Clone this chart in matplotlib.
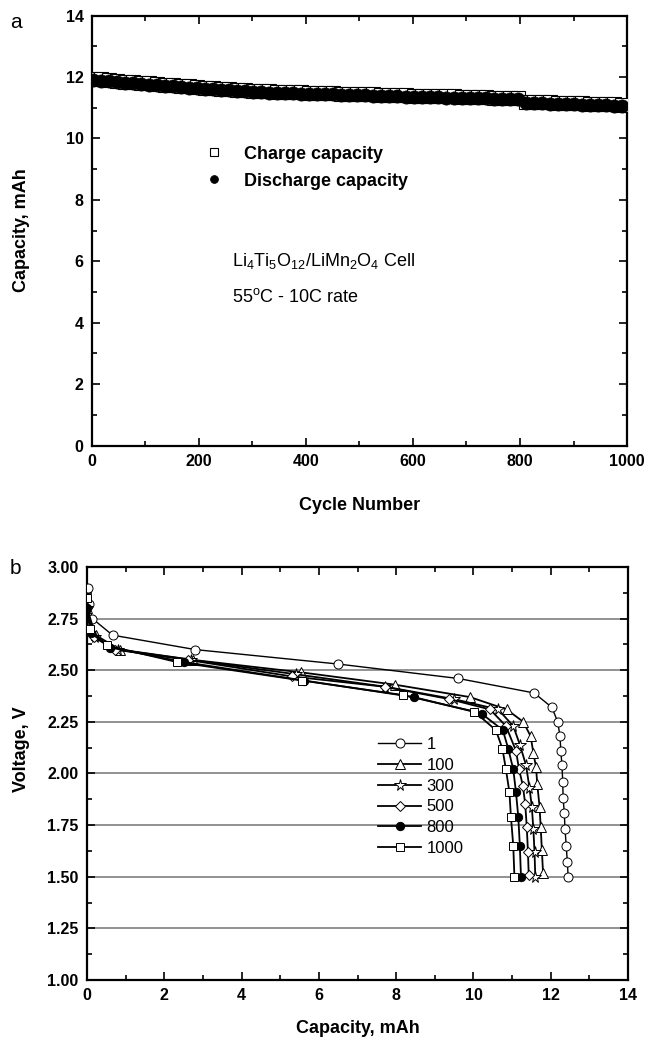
import matplotlib
matplotlib.use("Agg")
import matplotlib.pyplot as plt
from matplotlib.ticker import MultipleLocator

plt.rcParams['font.family'] = ['Liberation Sans', 'DejaVu Sans']
plt.rcParams['mathtext.default'] = 'regular'

# ---- panel a: capacity vs cycle number ----
cycles = [1, 16, 31, 46, 61, 76, 91, 106, 121, 136, 151, 166, 181, 196, 211, 226,
          241, 256, 271, 286, 301, 316, 331, 346, 361, 376, 391, 406, 421, 436, 451,
          466, 481, 496, 511, 526, 541, 556, 571, 586, 601, 616, 631, 646, 661, 676,
          691, 706, 721, 736, 751, 766, 781, 796, 811, 826, 841, 856, 871, 886, 901,
          916, 931, 946, 961, 976, 991]
discharge_cap = [11.90, 11.88, 11.86, 11.83, 11.81, 11.79, 11.77, 11.75, 11.73, 11.71,
                 11.69, 11.67, 11.65, 11.63, 11.61, 11.60, 11.58, 11.56, 11.54, 11.53,
                 11.51, 11.50, 11.49, 11.48, 11.47, 11.47, 11.46, 11.45, 11.44, 11.44,
                 11.43, 11.42, 11.41, 11.41, 11.40, 11.39, 11.38, 11.38, 11.37, 11.36,
                 11.35, 11.35, 11.34, 11.34, 11.33, 11.33, 11.32, 11.31, 11.31, 11.30,
                 11.29, 11.29, 11.28, 11.27, 11.16, 11.15, 11.14, 11.13, 11.12, 11.12,
                 11.11, 11.10, 11.09, 11.09, 11.08, 11.07, 11.06]
charge_cap = [11.94, 11.92, 11.90, 11.87, 11.85, 11.83, 11.81, 11.79, 11.77, 11.75,
              11.73, 11.71, 11.69, 11.67, 11.65, 11.64, 11.62, 11.60, 11.58, 11.57,
              11.55, 11.54, 11.53, 11.52, 11.51, 11.51, 11.50, 11.49, 11.48, 11.48,
              11.47, 11.46, 11.45, 11.45, 11.44, 11.43, 11.42, 11.42, 11.41, 11.40,
              11.39, 11.39, 11.38, 11.38, 11.37, 11.37, 11.36, 11.35, 11.35, 11.34,
              11.33, 11.33, 11.32, 11.31, 11.20, 11.19, 11.18, 11.17, 11.16, 11.16,
              11.15, 11.14, 11.13, 11.13, 11.12, 11.11, 11.10]

# ---- panel b: discharge curves at selected cycles ----
cap_1 = [0.03, 0.04, 0.14, 0.66, 2.80, 6.50, 9.61, 11.57, 12.03, 12.18, 12.24, 12.26,
         12.29, 12.31, 12.32, 12.35, 12.37, 12.40, 12.43, 12.45]
volt_1 = [2.90, 2.82, 2.75, 2.67, 2.60, 2.53, 2.46, 2.39, 2.32, 2.25, 2.18, 2.11,
          2.04, 1.96, 1.88, 1.81, 1.73, 1.65, 1.57, 1.50]
cap_100 = [0.00, 0.22, 0.85, 2.75, 5.53, 7.97, 9.91, 10.86, 11.29, 11.48, 11.55, 11.62,
           11.65, 11.71, 11.74, 11.77, 11.80]
volt_100 = [2.80, 2.67, 2.60, 2.55, 2.49, 2.43, 2.37, 2.31, 2.25, 2.18, 2.10, 2.03,
            1.95, 1.84, 1.74, 1.63, 1.52]
cap_300 = [0.00, 0.20, 0.80, 2.70, 5.42, 7.72, 9.50, 10.64, 11.03, 11.20, 11.36, 11.45,
           11.51, 11.55, 11.58, 11.60]
volt_300 = [2.80, 2.66, 2.60, 2.55, 2.48, 2.42, 2.36, 2.31, 2.23, 2.14, 2.04, 1.93,
            1.84, 1.73, 1.62, 1.50]
cap_500 = [0.00, 0.18, 0.72, 2.61, 5.30, 7.70, 9.38, 10.43, 10.84, 11.10, 11.18, 11.28,
           11.34, 11.38, 11.41, 11.43]
volt_500 = [2.80, 2.66, 2.60, 2.55, 2.47, 2.42, 2.36, 2.31, 2.23, 2.11, 2.02, 1.94,
            1.85, 1.74, 1.62, 1.51]
cap_800 = [0.00, 0.10, 0.60, 2.50, 5.62, 8.45, 10.21, 10.76, 10.90, 11.03, 11.10, 11.16,
           11.20, 11.23]
volt_800 = [2.80, 2.68, 2.61, 2.54, 2.45, 2.37, 2.29, 2.21, 2.12, 2.02, 1.91, 1.79,
            1.65, 1.50]
cap_1000 = [0.00, 0.07, 0.51, 2.32, 5.57, 8.17, 10.02, 10.58, 10.75, 10.84, 10.93, 10.97,
            11.03, 11.06]
volt_1000 = [2.85, 2.70, 2.62, 2.54, 2.45, 2.38, 2.30, 2.21, 2.12, 2.02, 1.91, 1.79,
             1.65, 1.50]
cycle_labels = ['1', '100', '300', '500', '800', '1000']


def style_axes(ax):
    for sp in ax.spines.values():
        sp.set_linewidth(1.6)
    ax.tick_params(which='both', direction='in', top=True, right=True, width=1.2)
    ax.tick_params(which='major', length=6, pad=6)
    ax.tick_params(which='minor', length=3.5)
    for lab in ax.get_xticklabels() + ax.get_yticklabels():
        lab.set_fontsize(11.5)
        lab.set_fontweight('bold')


fig = plt.figure(figsize=(6.45, 10.49), dpi=100)

# panel a
ax = fig.add_axes([0.1426, 0.5753, 0.8295, 0.4099])
ax.plot(cycles, charge_cap, ls='none', marker='s', ms=10, mfc='white', mec='black',
        mew=0.8, label='Charge capacity', zorder=3)
ax.plot(cycles, discharge_cap, ls='none', marker='o', ms=9.5, mfc='black', mec='black',
        mew=0.5, label='Discharge capacity', zorder=4)
ax.set_xlim(0, 1000)
ax.set_ylim(0, 14)
ax.xaxis.set_major_locator(MultipleLocator(200))
ax.xaxis.set_minor_locator(MultipleLocator(100))
ax.yaxis.set_major_locator(MultipleLocator(2))
ax.yaxis.set_minor_locator(MultipleLocator(1))
style_axes(ax)
ax.set_xlabel('Cycle Number', fontsize=13, fontweight='bold', labelpad=20)
ax.set_ylabel('Capacity, mAh', fontsize=13, fontweight='bold')
ax.yaxis.set_label_coords(-0.115, 0.5)
ax.legend(loc='upper left', bbox_to_anchor=(0.18, 0.735), frameon=False,
          handlelength=1.0, handletextpad=1.2, labelspacing=0.55, markerscale=0.6,
          prop={'size': 13, 'weight': 'bold'})
ax.text(262, 6.0, r'Li$_4$Ti$_5$O$_{12}$/LiMn$_2$O$_4$ Cell', fontsize=13, va='center')
ax.text(262, 4.85, r'55$^o$C - 10C rate', fontsize=13, va='center')

# panel b
bx = fig.add_axes([0.1349, 0.0658, 0.8388, 0.3937])
for yv in [1.25, 1.5, 1.75, 2.0, 2.25, 2.5, 2.75]:
    bx.axhline(yv, color='#7f7f7f', lw=1.2, zorder=1)
curves = [(cap_1, volt_1, 'o', 'white', 1.0),
          (cap_100, volt_100, '^', 'white', 1.3),
          (cap_300, volt_300, '*', 'white', 1.3),
          (cap_500, volt_500, 'D', 'white', 1.3),
          (cap_800, volt_800, 'o', 'black', 1.3),
          (cap_1000, volt_1000, 's', 'white', 1.3)]
sizes = {'o': 6.5, '^': 7, '*': 8.5, 'D': 5.5, 's': 6}
for (cx, vy, mk, fc, lw), lab in zip(curves, cycle_labels):
    ms = sizes[mk] if fc == 'white' else 6
    bx.plot(cx, vy, color='black', lw=lw, marker=mk, ms=ms, mfc=fc, mec='black',
            mew=0.7, label=lab, zorder=3)
bx.set_xlim(0, 14)
bx.set_ylim(1.0, 3.0)
bx.xaxis.set_major_locator(MultipleLocator(2))
bx.xaxis.set_minor_locator(MultipleLocator(1))
bx.yaxis.set_major_locator(MultipleLocator(0.25))
bx.yaxis.set_minor_locator(MultipleLocator(0.125))
bx.yaxis.set_major_formatter(plt.FormatStrFormatter('%.2f'))
style_axes(bx)
bx.set_xlabel('Capacity, mAh', fontsize=13, fontweight='bold', labelpad=12)
bx.set_ylabel('Voltage, V', fontsize=13, fontweight='bold')
bx.yaxis.set_label_coords(-0.105, 0.56)
bx.legend(loc='upper left', bbox_to_anchor=(0.51, 0.625), frameon=False,
          handlelength=2.6, handletextpad=0.3, labelspacing=0.35,
          prop={'size': 12})

fig.text(0.015, 0.979, 'a', fontsize=15, va='center')
fig.text(0.015, 0.458, 'b', fontsize=15, va='center')

fig.savefig('out.png', dpi=100)
